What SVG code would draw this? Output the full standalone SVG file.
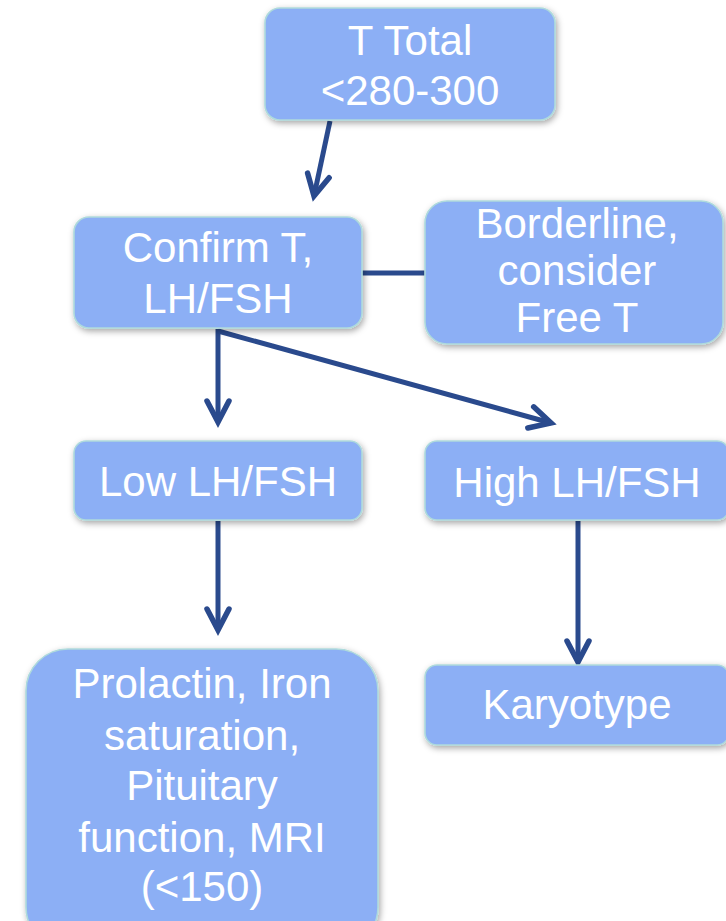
<svg xmlns="http://www.w3.org/2000/svg" width="726" height="921" viewBox="0 0 726 921">
<style>
.box{fill:#8CAFF5;stroke:#AEDADC;stroke-width:1.6;filter:url(#sh)}
.t{font-family:"Liberation Sans",Arial,sans-serif;font-size:42px;fill:#ffffff;text-anchor:middle}
.c{stroke:#2A4A8D;stroke-width:5;fill:none}
</style>
<defs>
<filter id="sh" x="-10%" y="-10%" width="120%" height="130%">
<feDropShadow dx="1.5" dy="2.5" stdDeviation="3" flood-color="#000" flood-opacity="0.35"/>
</filter>
<marker id="ah" markerUnits="userSpaceOnUse" markerWidth="40" markerHeight="40" refX="0" refY="0" viewBox="-25 -20 30 40" orient="auto">
<path d="M-21,-11 L0,0 L-21,11" fill="none" stroke="#2A4A8D" stroke-width="5.5" stroke-linejoin="miter" stroke-linecap="round"/>
</marker>
</defs>
<g id="connectors">
<line class="c" x1="330" y1="121" x2="314" y2="196" marker-end="url(#ah)"/>
<line class="c" x1="218" y1="329" x2="218" y2="422" marker-end="url(#ah)"/>
<line class="c" x1="218" y1="331" x2="551" y2="423" marker-end="url(#ah)"/>
<line class="c" x1="361" y1="273" x2="426" y2="273"/>
<line class="c" x1="218" y1="521" x2="218" y2="630" marker-end="url(#ah)"/>
<line class="c" x1="578" y1="521" x2="578" y2="662" marker-end="url(#ah)"/>
</g>
<g id="n-ttotal">
<rect class="box" x="265" y="8" width="290" height="112" rx="15"/>
<text class="t" x="410" y="55">T Total</text>
<text class="t" x="410" y="105">&lt;280-300</text>
</g>
<g id="n-confirm">
<rect class="box" x="74" y="217" width="288" height="111" rx="15"/>
<text class="t" x="218" y="262">Confirm T,</text>
<text class="t" x="218" y="313">LH/FSH</text>
</g>
<g id="n-borderline">
<rect class="box" x="425" y="201" width="298" height="143" rx="22"/>
<text class="t" x="577" y="238">Borderline,</text>
<text class="t" x="577" y="285">consider</text>
<text class="t" x="577" y="332">Free T</text>
</g>
<g id="n-low">
<rect class="box" x="74" y="441" width="288" height="79" rx="12"/>
<text class="t" x="218" y="496">Low LH/FSH</text>
</g>
<g id="n-high">
<rect class="box" x="425" y="441" width="304" height="79" rx="12"/>
<text class="t" x="577" y="497">High LH/FSH</text>
</g>
<g id="n-prolactin">
<rect class="box" x="26" y="649" width="352" height="300" rx="42"/>
<text class="t" x="202" y="698">Prolactin, Iron</text>
<text class="t" x="202" y="750">saturation,</text>
<text class="t" x="202" y="800">Pituitary</text>
<text class="t" x="202" y="852">function, MRI</text>
<text class="t" x="202" y="901">(&lt;150)</text>
</g>
<g id="n-karyotype">
<rect class="box" x="425" y="665" width="304" height="80" rx="12"/>
<text class="t" x="577" y="719">Karyotype</text>
</g>
</svg>
